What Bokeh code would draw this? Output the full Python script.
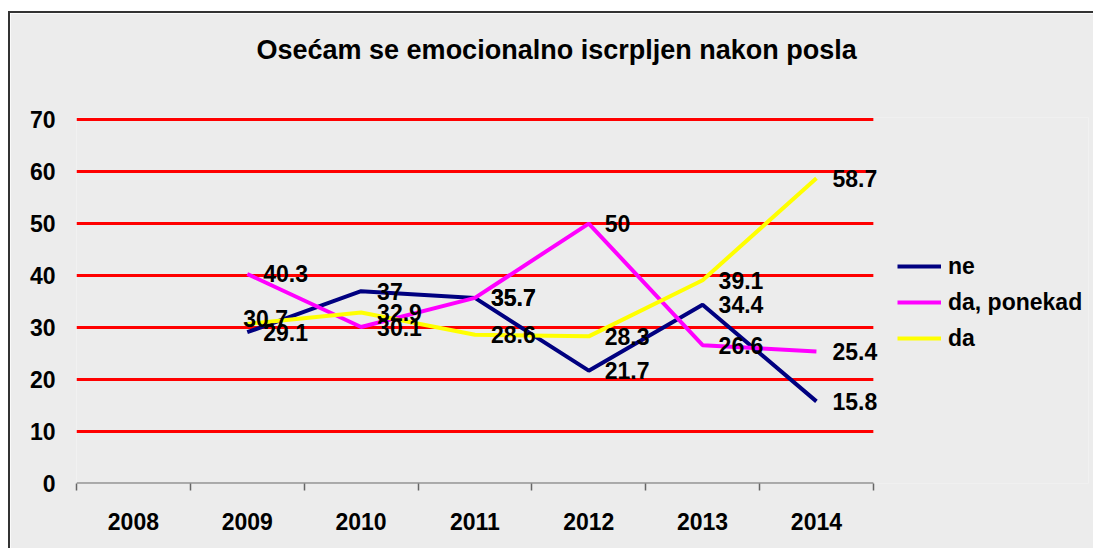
import math
from bokeh.plotting import figure
from bokeh.models import (ColumnDataSource, Range1d, FixedTicker, Legend, LegendItem, Title)
from bokeh.layouts import column
from bokeh.embed import file_html
from bokeh.resources import INLINE

years = ["2008", "2009", "2010", "2011", "2012", "2013", "2014"]
ne = [math.nan, 29.1, 37.0, 35.7, 21.7, 34.4, 15.8]
da_ponekad = [math.nan, 40.3, 30.1, 35.7, 50.0, 26.6, 25.4]
da = [math.nan, 30.7, 32.9, 28.6, 28.3, 39.1, 58.7]
series_names = ["ne", "da, ponekad", "da"]
y_ticks = [0, 10, 20, 30, 40, 50, 60, 70]

colors = ["#000080", "#ff00ff", "#ffff00"]
FONT = "Liberation Sans"
BG = "#ececec"

# label nudges (styling only): (series index, year index) -> (dx, dy)
nudges = {(2, 1): (-20, -5)}

n = len(years)
xs = list(range(n))
x_lo, x_hi = -0.5, n - 0.5          # category extent
x_room = 1.89                         # extra room on the right for the legend

p = figure(width=1083, height=535, output_backend="svg", toolbar_location=None,
           x_range=Range1d(x_lo, x_hi + x_room), y_range=Range1d(0, 70.4),
           min_border_left=66, min_border_right=5, min_border_top=104,
           min_border_bottom=65)
p.background_fill_color = BG
p.border_fill_color = BG
p.outline_line_color = None

# invisible spacer between title and plot area
p.add_layout(Title(text=" ", text_font_size="10px", standoff=40), "above")

p.title.text = "Osećam se emocionalno iscrpljen nakon posla"
p.title.text_font = FONT
p.title.text_font_size = "27px"
p.title.text_font_style = "bold"
p.title.text_color = "#000000"
p.title.align = "left"
p.title.vertical_align = "bottom"
p.title.offset = 180
p.title.standoff = 0

# axes
p.xaxis.ticker = FixedTicker(ticks=xs, minor_ticks=[i - 0.5 for i in range(n + 1)])
p.xaxis.major_label_overrides = {i: y for i, y in enumerate(years)}
p.xaxis.major_tick_in = 0
p.xaxis.major_tick_out = 0
p.xaxis.minor_tick_in = 0
p.xaxis.minor_tick_out = 7
p.xaxis.minor_tick_line_color = "#666666"
p.xaxis.minor_tick_line_width = 1.5
p.xaxis.axis_line_color = None
p.xaxis.major_label_standoff = 22
p.xaxis.major_label_text_font = FONT
p.xaxis.major_label_text_font_size = "23px"
p.xaxis.major_label_text_font_style = "bold"
p.xaxis.major_label_text_color = "#000000"

p.yaxis.ticker = FixedTicker(ticks=y_ticks)
p.yaxis.axis_line_color = None
p.yaxis.major_tick_line_color = None
p.yaxis.minor_tick_line_color = None
p.yaxis.major_tick_in = 0
p.yaxis.major_tick_out = 0
p.yaxis.major_label_standoff = 21
p.yaxis.major_label_text_font = FONT
p.yaxis.major_label_text_font_size = "23px"
p.yaxis.major_label_text_font_style = "bold"
p.yaxis.major_label_text_color = "#000000"

p.xgrid.visible = False
p.ygrid.visible = False

# red horizontal gridlines spanning the category area only
grid_vals = [t for t in y_ticks if t > 0]
p.segment(x0=[x_lo] * len(grid_vals), x1=[x_hi] * len(grid_vals), y0=grid_vals, y1=grid_vals,
          line_color="#ff0000", line_width=3)
# category axis line at zero
p.segment(x0=[x_lo], x1=[x_hi], y0=[0], y1=[0], line_color="#666666", line_width=2)

all_series = [ne, da_ponekad, da]
renderers = []
for vals, col in zip(all_series, colors):
    r = p.line(xs, vals, line_color=col, line_width=4)
    renderers.append(r)

lx, ly, lt, dxs, dys = [], [], [], [], []
for si, vals in enumerate(all_series):
    for i, v in enumerate(vals):
        if not math.isnan(v):
            lx.append(i)
            ly.append(v)
            lt.append(("%g" % v))
            dx, dy = nudges.get((si, i), (0, 0))
            dxs.append(16 + dx)
            dys.append(dy)
src = ColumnDataSource(dict(x=lx, y=ly, t=lt, dx=dxs, dy=dys))
p.text(x="x", y="y", text="t", x_offset="dx", y_offset="dy", source=src,
       text_align="left", text_baseline="middle", text_font={"value": FONT},
       text_font_size="23px", text_font_style="bold", text_color="#000000")

legend = Legend(items=[LegendItem(label=s, renderers=[r]) for s, r in zip(series_names, renderers)],
                location=(821, 131))
legend.background_fill_alpha = 0
legend.border_line_color = None
legend.margin = 0
legend.padding = 0
legend.glyph_width = 44
legend.glyph_height = 20
legend.label_height = 28
legend.spacing = 8
legend.label_standoff = 7
legend.label_text_font = FONT
legend.label_text_font_size = "23px"
legend.label_text_font_style = "bold"
legend.label_text_color = "#000000"
p.add_layout(legend, "center")

layout = column(p, styles={"border-left": "2px solid #333333", "border-top": "2px solid #333333",
                           "margin-top": "11px", "margin-left": "8px"})

open("out.html", "w").write(file_html(layout, INLINE))
